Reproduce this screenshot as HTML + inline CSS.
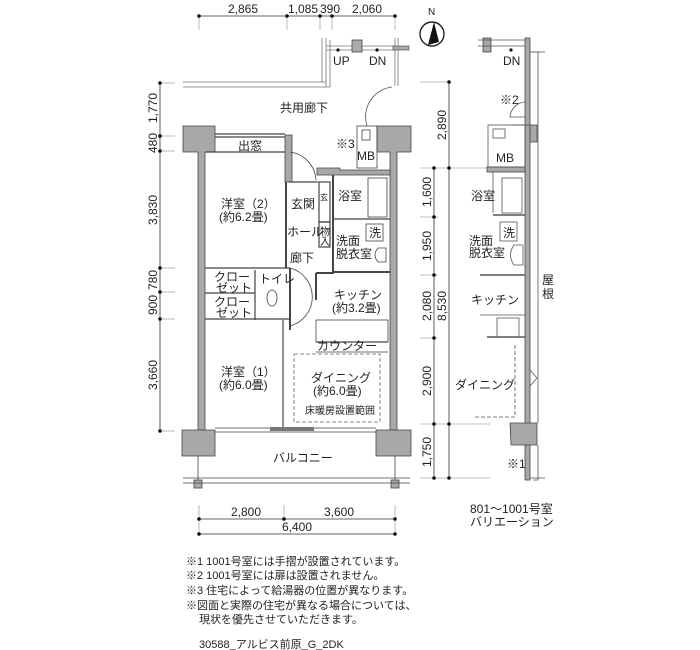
<!DOCTYPE html>
<html><head><meta charset="utf-8"><style>
html,body{margin:0;padding:0;background:#fff}
svg{display:block}
text{font-family:"Liberation Sans","Noto Sans CJK JP",sans-serif;fill:#222}
.j{font-size:12px}
.d{font-size:12px}
.s{font-size:10px}
</style></head><body>
<svg width="700" height="650" viewBox="0 0 700 650" xmlns="http://www.w3.org/2000/svg">
<g stroke="#333" stroke-width="0.8" fill="none">
<line x1="199" y1="16" x2="395" y2="16"/>
<line x1="199" y1="16" x2="199" y2="30" stroke="#aaa"/><line x1="287" y1="16" x2="287" y2="30" stroke="#aaa"/>
<line x1="320" y1="16" x2="320" y2="30" stroke="#aaa"/><line x1="332" y1="16" x2="332" y2="30" stroke="#aaa"/><line x1="395" y1="16" x2="395" y2="30" stroke="#aaa"/>
<line x1="160" y1="83" x2="160" y2="431"/>
<g stroke="#aaa"><line x1="160" y1="83" x2="175" y2="83"/><line x1="160" y1="136" x2="175" y2="136"/><line x1="160" y1="151" x2="175" y2="151"/><line x1="160" y1="268" x2="175" y2="268"/><line x1="160" y1="292" x2="175" y2="292"/><line x1="160" y1="319" x2="175" y2="319"/><line x1="160" y1="431" x2="175" y2="431"/></g>
<line x1="434" y1="168" x2="434" y2="478"/><line x1="449" y1="82" x2="449" y2="478"/>
<g stroke="#aaa"><line x1="420" y1="82" x2="449" y2="82"/><line x1="420" y1="168" x2="490" y2="168"/><line x1="420" y1="217" x2="438" y2="217"/><line x1="420" y1="275" x2="438" y2="275"/><line x1="420" y1="338" x2="438" y2="338"/><line x1="420" y1="424" x2="490" y2="424"/><line x1="420" y1="478" x2="490" y2="478"/></g>
<line x1="199" y1="519" x2="395" y2="519"/><line x1="199" y1="534" x2="395" y2="534"/>
<g stroke="#aaa"><line x1="199" y1="505" x2="199" y2="534"/><line x1="284" y1="505" x2="284" y2="519"/><line x1="395" y1="505" x2="395" y2="534"/></g>
</g>
<g fill="#111">
<circle cx="199" cy="16" r="1.8"/><circle cx="287" cy="16" r="1.8"/><circle cx="320" cy="16" r="1.8"/><circle cx="332" cy="16" r="1.8"/><circle cx="395" cy="16" r="1.8"/>
<circle cx="160" cy="83" r="1.8"/><circle cx="160" cy="136" r="1.8"/><circle cx="160" cy="151" r="1.8"/><circle cx="160" cy="268" r="1.8"/><circle cx="160" cy="292" r="1.8"/><circle cx="160" cy="319" r="1.8"/><circle cx="160" cy="431" r="1.8"/>
<circle cx="449" cy="82" r="1.8"/><circle cx="434" cy="168" r="1.8"/><circle cx="449" cy="168" r="1.8"/><circle cx="434" cy="217" r="1.8"/><circle cx="434" cy="275" r="1.8"/><circle cx="434" cy="338" r="1.8"/><circle cx="434" cy="424" r="1.8"/><circle cx="449" cy="424" r="1.8"/><circle cx="434" cy="478" r="1.8"/><circle cx="449" cy="478" r="1.8"/>
<circle cx="199" cy="519" r="1.8"/><circle cx="284" cy="519" r="1.8"/><circle cx="395" cy="519" r="1.8"/><circle cx="199" cy="534" r="1.8"/><circle cx="395" cy="534" r="1.8"/>
</g>
<text class="d" x="243" y="13" text-anchor="middle">2,865</text>
<text class="d" x="303" y="13" text-anchor="middle">1,085</text>
<text class="d" x="330" y="13" text-anchor="middle">390</text>
<text class="d" x="367" y="13" text-anchor="middle">2,060</text>
<g class="d" text-anchor="middle">
<text transform="translate(157,108) rotate(-90)">1,770</text>
<text transform="translate(157,143) rotate(-90)">480</text>
<text transform="translate(157,210) rotate(-90)">3,830</text>
<text transform="translate(157,280) rotate(-90)">780</text>
<text transform="translate(157,305) rotate(-90)">900</text>
<text transform="translate(157,375) rotate(-90)">3,660</text>
<text transform="translate(446,125) rotate(-90)">2,890</text>
<text transform="translate(431,192) rotate(-90)">1,600</text>
<text transform="translate(431,246) rotate(-90)">1,950</text>
<text transform="translate(431,306) rotate(-90)">2,080</text>
<text transform="translate(446,306) rotate(-90)">8,530</text>
<text transform="translate(431,381) rotate(-90)">2,900</text>
<text transform="translate(431,452) rotate(-90)">1,750</text>
</g>
<text class="d" x="246" y="516" text-anchor="middle">2,800</text>
<text class="d" x="339" y="516" text-anchor="middle">3,600</text>
<text class="d" x="297" y="531" text-anchor="middle">6,400</text>
<circle cx="432" cy="34" r="12" fill="none" stroke="#222" stroke-width="1.4"/>
<polygon points="434,22 428,45 439,42" fill="#111"/>
<text x="428" y="15" class="s">N</text>

<g stroke="#777" stroke-width="0.8" fill="none">
<line x1="183" y1="82" x2="326" y2="82"/><line x1="183" y1="87" x2="330" y2="87"/>
<line x1="322" y1="38" x2="322" y2="82"/><line x1="326" y1="38" x2="326" y2="87"/><line x1="330" y1="40" x2="330" y2="87"/>
<line x1="326" y1="46" x2="395" y2="46"/><line x1="326" y1="50" x2="395" y2="50"/>
<line x1="395" y1="38" x2="395" y2="86"/><line x1="398" y1="38" x2="398" y2="86"/>
<path d="M392 87 A 30 30 0 0 0 367 126" stroke="#555"/>
</g>
<rect x="352" y="40" width="10" height="12" fill="#aaa" stroke="#444" stroke-width="0.8"/>
<rect x="393" y="46" width="16" height="4" fill="#aaa" stroke="#444" stroke-width="0.6"/>
<circle cx="338" cy="50" r="1.6" fill="#111"/><circle cx="377" cy="50" r="1.6" fill="#111"/>
<text class="j" x="333" y="65">UP</text><text class="j" x="369" y="65">DN</text>
<text class="j" x="280" y="112">共用廊下</text>

<g fill="#a8a8a8" stroke="#444" stroke-width="0.8">
<path d="M183 126 H215 V152 H205 V430 H198 V152 H183 Z"/>
<path d="M377 126 H411 V152 H397 V430 H390 V152 H377 Z"/>
<path d="M182 430 H215 V456 H182 Z"/>
<path d="M376 430 H411 V456 H376 Z"/>
<path d="M285 135 H292 V182 H285 Z"/>
<path d="M317 175 H390 V170 H340 V168 H317 Z"/>
<rect x="194" y="480" width="8" height="8"/><rect x="391" y="480" width="8" height="8"/>
</g>
<g stroke="#444" stroke-width="1.2" fill="none">
<line x1="215" y1="134" x2="285" y2="134"/><line x1="215" y1="137" x2="285" y2="137"/>
<line x1="205" y1="152" x2="285" y2="152"/>
<line x1="289" y1="182" x2="318" y2="182"/>
<line x1="286" y1="182" x2="286" y2="268" stroke-width="2"/>
<line x1="205" y1="268" x2="290" y2="268"/><line x1="205" y1="293" x2="255" y2="293"/><line x1="205" y1="319" x2="290" y2="319"/>
<line x1="255" y1="270" x2="255" y2="320"/><line x1="290" y1="268" x2="290" y2="330" stroke-width="2"/>
<line x1="283" y1="320" x2="283" y2="430"/>
<path d="M290 152 A 30 30 0 0 1 316 180" stroke-width="0.8"/>
<path d="M290 268 A 30 30 0 0 1 290 326" stroke-width="0.8"/>
<rect x="319" y="182" width="11" height="40"/><rect x="319" y="222" width="11" height="25"/>
<line x1="333" y1="175" x2="333" y2="270" stroke-width="2"/>
<line x1="333" y1="219" x2="390" y2="219"/>
<rect x="368" y="178" width="19" height="39" stroke-width="0.8"/>
<rect x="366" y="224" width="17" height="17" stroke-width="0.8"/>
<path d="M378 248 h8 v14 h-8 q-6 -7 0 -14z" stroke-width="0.8"/>
<path d="M316 273 V300 M316 273 H333 V270" stroke-width="2"/>
<line x1="333" y1="272" x2="390" y2="272" stroke-width="2"/>
<rect x="316" y="320" width="72" height="22" stroke-width="0.8"/>
<line x1="316" y1="342" x2="388" y2="342"/>
<line x1="316" y1="352" x2="388" y2="352" stroke-width="0.8"/>
<rect x="294" y="354" width="86" height="68" stroke-dasharray="4,2" stroke-width="0.8" stroke="#666"/>
<line x1="215" y1="428" x2="376" y2="428" stroke-width="0.8"/><line x1="215" y1="432" x2="376" y2="432" stroke-width="0.8"/>
<line x1="183" y1="478" x2="410" y2="478" stroke-width="0.8"/><line x1="183" y1="483" x2="410" y2="483" stroke-width="0.8"/>
<line x1="198" y1="456" x2="198" y2="480" stroke-width="0.8"/><line x1="395" y1="456" x2="395" y2="480" stroke-width="0.8"/>
<rect x="357" y="126" width="20" height="42" stroke-width="0.8"/>
<rect x="362" y="130" width="8" height="10" stroke-width="0.8"/>
<ellipse cx="272" cy="298" rx="5" ry="8" stroke-width="0.8"/>
</g>
<rect x="270" y="427" width="44" height="4" fill="#777"/>
<text class="j" x="238" y="150">出窓</text>
<text class="j" x="221" y="208">洋室（2）</text>
<text class="j" x="219" y="221">(約6.2畳)</text>
<text class="j" x="291" y="208">玄関</text>
<text class="s" x="320" y="200" style="font-size:8px">玄</text>
<text class="j" x="287" y="236">ホール</text>
<text class="s" x="320" y="235">物</text><text class="s" x="320" y="245">入</text>
<text class="j" x="338" y="200">浴室</text>
<text class="j" x="369" y="237">洗</text>
<text class="j" x="336" y="245">洗面</text><text class="j" x="336" y="258">脱衣室</text>
<text class="j" x="290" y="262">廊下</text>
<text class="j" x="214" y="281">クロー</text><text class="j" x="216" y="292">ゼット</text>
<text class="j" x="214" y="306">クロー</text><text class="j" x="216" y="317">ゼット</text>
<text class="j" x="259" y="283">トイレ</text>
<text class="j" x="334" y="299">キッチン</text>
<text class="j" x="332" y="312">(約3.2畳)</text>
<text class="j" x="317" y="350">カウンター</text>
<text class="j" x="221" y="376">洋室（1）</text>
<text class="j" x="219" y="389">(約6.0畳)</text>
<text class="j" x="311" y="382">ダイニング</text>
<text class="j" x="313" y="395">(約6.0畳)</text>
<text class="s" x="305" y="414">床暖房設置範囲</text>
<text class="j" x="273" y="462">バルコニー</text>
<text class="j" x="336" y="148">※3</text>
<text class="j" x="357" y="160">MB</text>

<g fill="#a8a8a8" stroke="#444" stroke-width="0.8">
<rect x="525" y="38" width="5" height="442"/>
<path d="M511 125 H537 V142 H530 V125 Z"/>
<path d="M510 423 H537 V445 H511 Z"/>
<rect x="487" y="167" width="38" height="5"/>
<rect x="483" y="38" width="8" height="14"/>
</g>
<g stroke="#555" stroke-width="0.8" fill="none">
<path d="M533 52 H538 V423 M538 445 V480 H533"/>
<line x1="530" y1="52" x2="545" y2="52"/><line x1="530" y1="478" x2="545" y2="478"/>
<line x1="478" y1="40" x2="525" y2="40"/><line x1="478" y1="46" x2="525" y2="46"/>
<path d="M525 102 A 16 16 0 0 0 510 117 H525"/>
<rect x="488" y="125" width="37" height="42"/>
<rect x="493" y="129" width="12" height="9"/>
<line x1="493" y1="172" x2="493" y2="213"/><rect x="502" y="178" width="20" height="35"/>
<line x1="493" y1="215" x2="525" y2="215" stroke-width="1.6"/>
<rect x="500" y="222" width="17" height="19"/>
<path d="M514 245 h9 v20 h-9 q-7 -10 0 -20z"/>
<line x1="480" y1="275" x2="525" y2="275" stroke-width="1.4"/>
<line x1="480" y1="315" x2="525" y2="315"/>
<rect x="497" y="318" width="22" height="19"/>
<line x1="487" y1="337" x2="525" y2="337" stroke-width="1.4"/>
<line x1="515" y1="345" x2="515" y2="417" stroke-dasharray="4,2"/>
<line x1="475" y1="417" x2="515" y2="417" stroke-dasharray="4,2"/>
<path d="M530 370 L537 378 L530 386"/>
</g>
<circle cx="511" cy="50" r="1.6" fill="#111"/>
<text class="j" x="503" y="65">DN</text>
<text class="j" x="500" y="104">※2</text>
<text class="j" x="496" y="162">MB</text>
<text class="j" x="471" y="200">浴室</text>
<text class="j" x="503" y="237">洗</text>
<text class="j" x="469" y="245">洗面</text><text class="j" x="469" y="257">脱衣室</text>
<text class="j" x="471" y="304">キッチン</text>
<text class="j" x="455" y="389">ダイニング</text>
<text class="j" x="542" y="284">屋</text><text class="j" x="542" y="298">根</text>
<text class="j" x="507" y="468">※1</text>
<text class="j" x="470" y="513">801～1001号室</text>
<text class="j" x="470" y="526">バリエーション</text>

<g class="s" style="font-size:11px">
<text x="186" y="565">※1  1001号室には手摺が設置されています。</text>
<text x="186" y="579">※2  1001号室には扉は設置されません。</text>
<text x="186" y="594">※3  住宅によって給湯器の位置が異なります。</text>
<text x="186" y="609">※図面と実際の住宅が異なる場合については、</text>
<text x="199" y="623">現状を優先させていただきます。</text>
<text x="199" y="648">30588_アルビス前原_G_2DK</text>
</g>
</svg>
</body></html>
